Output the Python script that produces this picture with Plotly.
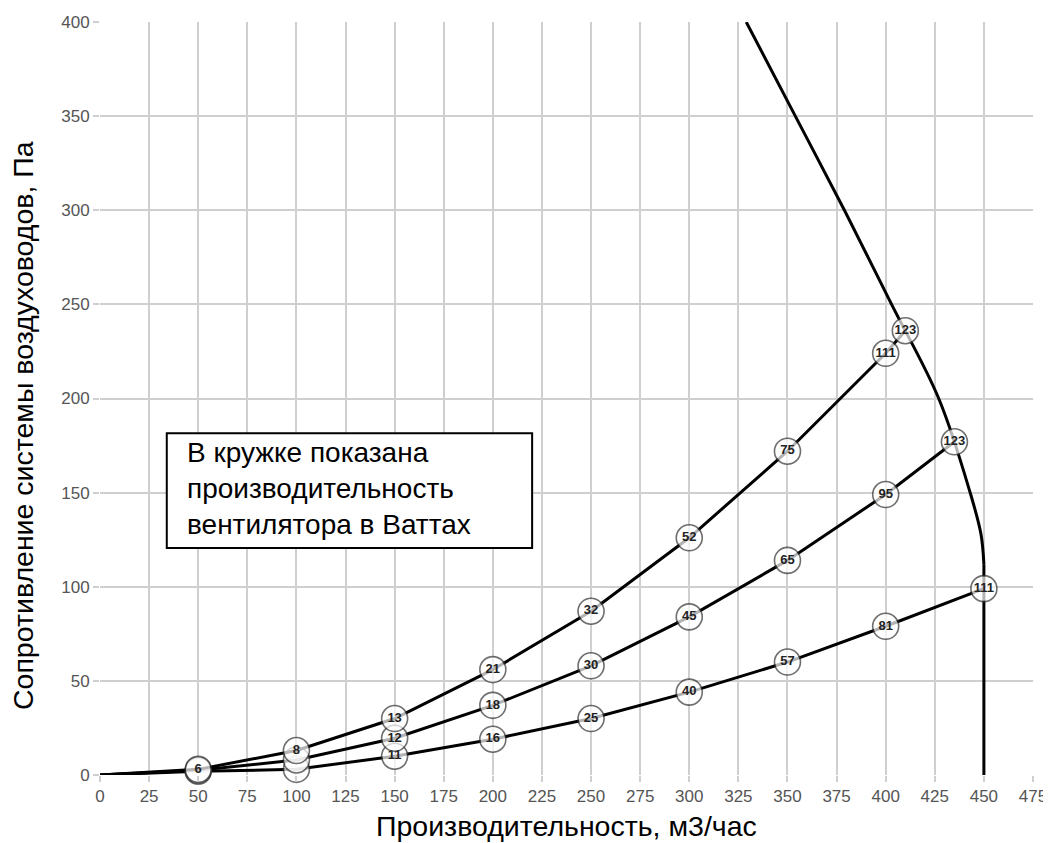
import plotly.graph_objects as go

# --- data ---
top_x = [0, 50, 100, 150, 200, 250, 300, 350, 400, 410]
top_y = [0, 3, 13, 30, 56, 87, 126, 172, 224, 236]
top_lbl = ["", "6", "8", "13", "21", "32", "52", "75", "111", "123"]

mid_x = [0, 50, 100, 150, 200, 250, 300, 350, 400, 435]
mid_y = [0, 2.5, 8, 19.5, 37, 58, 84, 114, 149, 177]
mid_lbl = ["", "", "", "12", "18", "30", "45", "65", "95", "123"]

low_x = [0, 50, 100, 150, 200, 250, 300, 350, 400, 450]
low_y = [0, 2, 3, 10, 19, 30, 44, 60, 79, 99]
low_lbl = ["", "", "", "11", "16", "25", "40", "57", "81", "111"]

# fan curve: curved upper part, then vertical part at 450
fan_curve_x = [329, 354, 379, 403, 427, 443, 448.5, 450]
fan_curve_y = [400, 350, 300, 250, 200, 150, 128, 112]
fan_vert_x = [450, 450]
fan_vert_y = [112, 0]

x_ticks = list(range(0, 476, 25))
y_ticks = list(range(0, 401, 50))

box_lines = ["В кружке показана", "производительность", "вентилятора в Ваттах"]
x_title = "Производительность, м3/час"
y_title = "Сопротивление системы воздуховодов, Па"

FONT = "Liberation Sans, Arial"

# page is rendered with an 8px body margin
OFF = 8
W, H = 1051 - OFF, 843 - OFF
L, R, T, B = 100 - OFF, 18, 22 - OFF, 68
pw, ph = W - L - R, H - T - B

def paper_xy(px, py):
    return (px - OFF - L) / pw, (H - B - (py - OFF)) / ph

fig = go.Figure()

fig.add_trace(go.Scatter(x=fan_curve_x, y=fan_curve_y, mode="lines",
                         line=dict(color="black", width=3, shape="spline", smoothing=1.0),
                         hoverinfo="skip", showlegend=False))
fig.add_trace(go.Scatter(x=fan_vert_x, y=fan_vert_y, mode="lines",
                         line=dict(color="black", width=3),
                         hoverinfo="skip", showlegend=False))

def sys_trace(xs, ys, lbls):
    sizes = [0 if i == 0 else 26 for i in range(len(xs))]
    return go.Scatter(
        x=xs, y=ys, mode="lines+markers+text",
        text=["<b>%s</b>" % t if t else "" for t in lbls],
        textposition="middle center",
        textfont=dict(family=FONT, size=13, color="#222"),
        line=dict(color="black", width=3),
        marker=dict(size=sizes, color="white", line=dict(color="#333", width=1.6)),
        cliponaxis=False, showlegend=False)

fig.add_trace(sys_trace(low_x, low_y, low_lbl))
fig.add_trace(sys_trace(mid_x, mid_y, mid_lbl))
fig.add_trace(sys_trace(top_x, top_y, top_lbl))

fig.add_shape(type="rect", xref="x", yref="y", x0=34, x1=220, y0=120.6, y1=181.6,
              line=dict(color="black", width=2), fillcolor="white", layer="above")
for i, t in enumerate(box_lines):
    fig.add_annotation(x=43.5, y=171.5 - i * 19.1, xref="x", yref="y", text=t,
                       showarrow=False, xanchor="left", yanchor="middle",
                       font=dict(family=FONT, size=28, color="black"))

xt = paper_xy(566, 826)
fig.add_annotation(x=xt[0], y=xt[1], xref="paper", yref="paper", text=x_title, showarrow=False,
                   xanchor="center", yanchor="middle",
                   font=dict(family=FONT, size=28.5, color="black"))
yt = paper_xy(23, 426)
fig.add_annotation(x=yt[0], y=yt[1], xref="paper", yref="paper", text=y_title, showarrow=False,
                   xanchor="center", yanchor="middle",
                   textangle=-90, font=dict(family=FONT, size=28.5, color="black"))

axis_common = dict(showgrid=True, gridcolor="#cfcfcf", gridwidth=1.5,
                   ticks="outside", ticklen=6, tickcolor="#cfcfcf", tickwidth=1.5,
                   zeroline=False, showline=False, automargin=False,
                   tickfont=dict(family=FONT, size=17, color="#555"))

fig.update_layout(
    width=W, height=H,
    margin=dict(l=L, r=R, t=T, b=B),
    plot_bgcolor="white", paper_bgcolor="white",
    xaxis=dict(range=[0, 475], tickvals=x_ticks, **axis_common),
    yaxis=dict(range=[0, 400], tickvals=y_ticks, **axis_common),
)

fig.write_html("out.html")
